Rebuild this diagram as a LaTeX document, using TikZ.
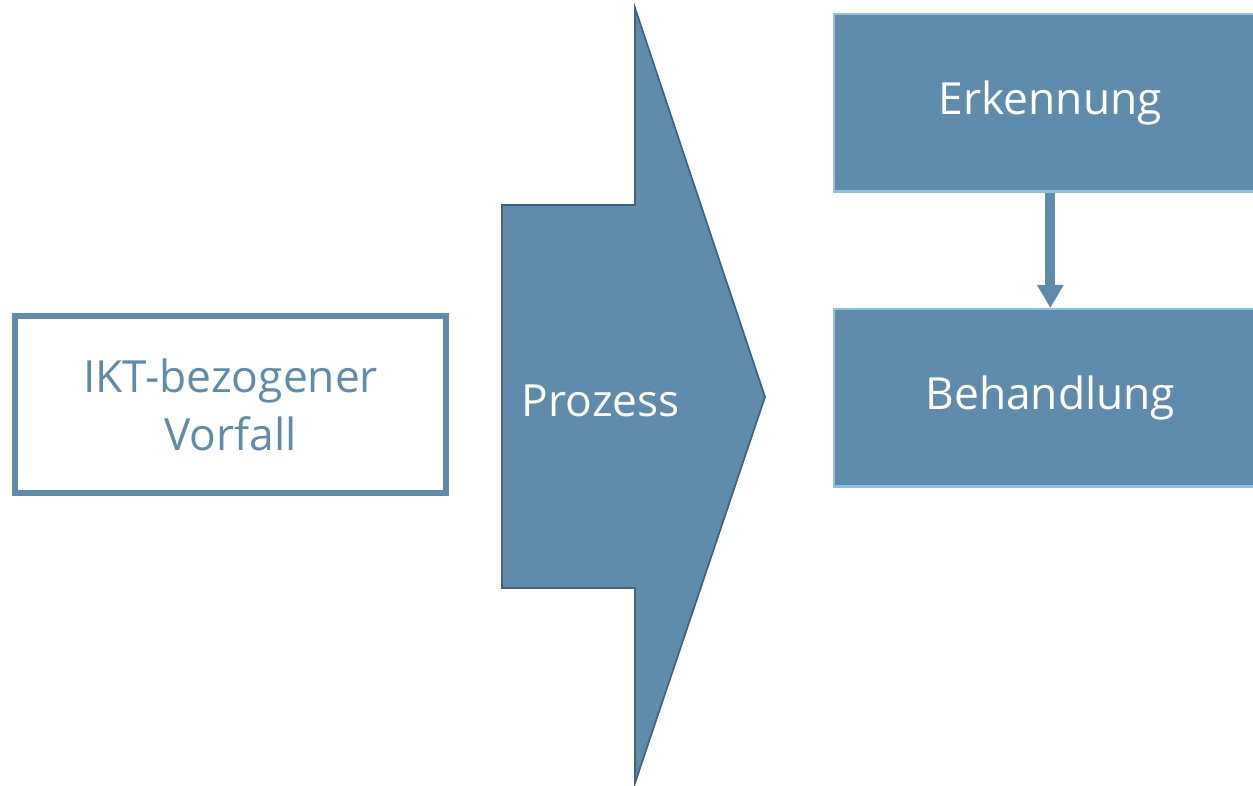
\documentclass[tikz,border=0pt]{standalone}
\usepackage{fontspec}
\setmainfont{Open Sans}
\usetikzlibrary{arrows.meta,positioning}
\definecolor{stahlblau}{RGB}{95,140,172}
\definecolor{randdunkel}{RGB}{66,100,126}
\definecolor{randhell}{RGB}{140,195,228}

\begin{document}
\begin{tikzpicture}[x=0.01cm,y=-0.01cm,
	schrift/.style={font=\fontsize{12.6}{16.5}\selectfont},
	stufe/.style={schrift,draw=randhell,line width=0.7pt,fill=stahlblau,text=white,
		minimum width=4.32cm,minimum height=1.77cm,inner sep=0pt,anchor=north west,
		text height=0.9em,text depth=0.24em},
	vorfall/.style={schrift,draw=stahlblau,line width=1.7pt,fill=white,text=stahlblau,
		minimum width=4.31cm,minimum height=1.77cm,align=center,inner sep=0pt}]
	\useasboundingbox (0,0) rectangle (1253,786);
	% Vorfall links
	\node[vorfall] (vorfall) at (230.5,404.5) {IKT-bezogener\\Vorfall};
	% Prozesspfeil
	\draw[fill=stahlblau,draw=randdunkel,line width=0.5pt,line join=miter]
		(502,205) -- (635,205) -- (635,8) -- (765,397) -- (635,783) -- (635,588) -- (502,588) -- cycle;
	\node[schrift,text=white] (prozess) at (601,401) {Prozess};
	% Schritte rechts
	\node[stufe] (erkennung) at (833,13) {Erkennung};
	\node[stufe] (behandlung) at (833,308) {Behandlung};
	\draw[stahlblau,line width=2.8pt,-{Triangle[width=0.25cm,length=0.23cm]}]
		(erkennung.south) -- (behandlung.north);
\end{tikzpicture}
\end{document}
